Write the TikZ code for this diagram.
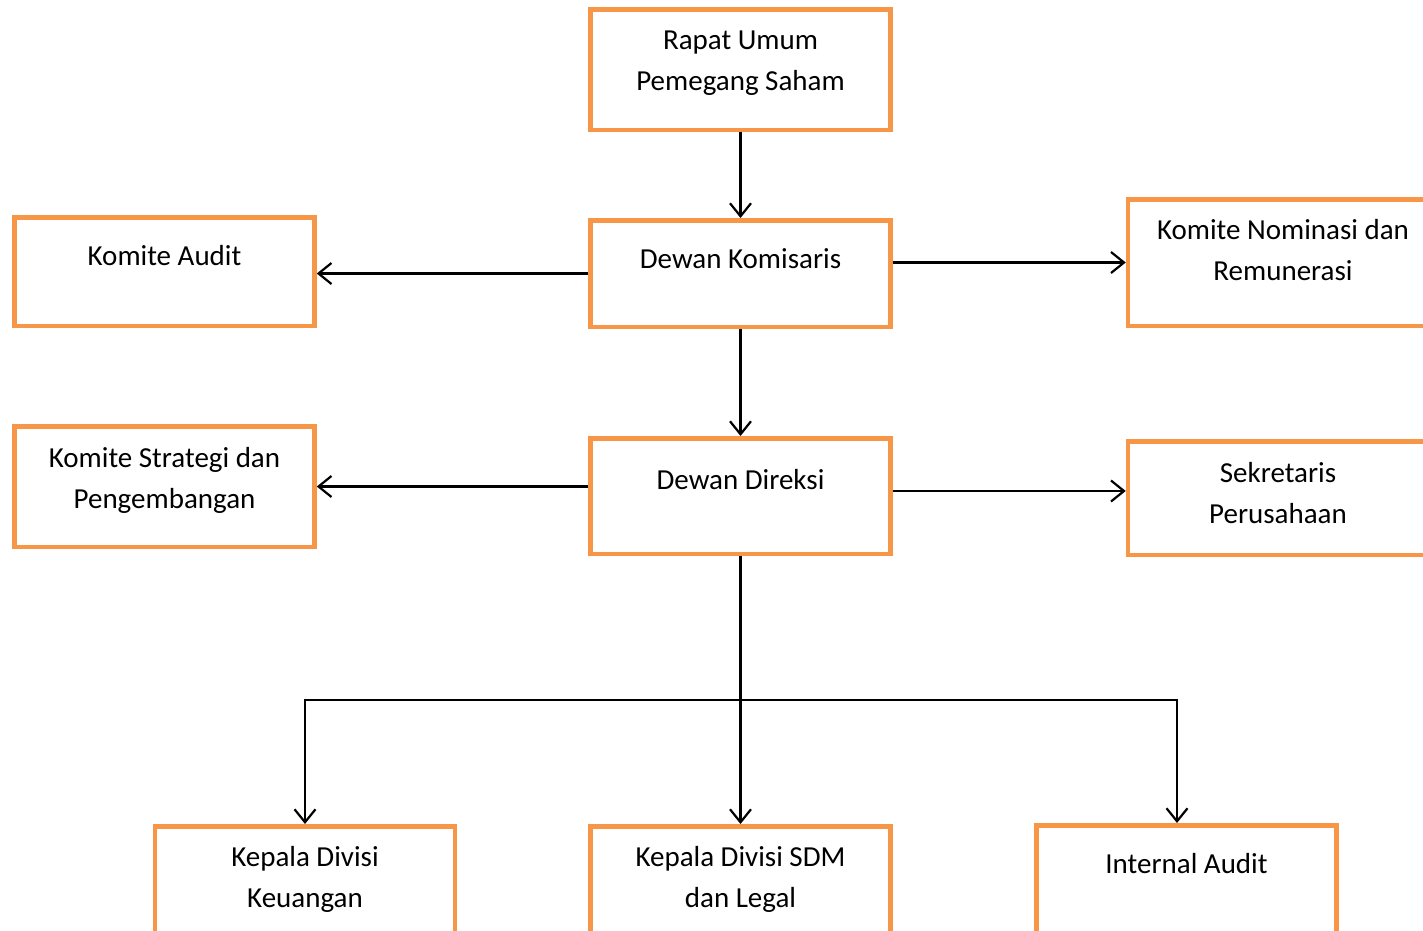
\documentclass[tikz,border=0pt]{standalone}
\usepackage{fontspec}
\setmainfont{Carlito}
\usetikzlibrary{arrows.meta}
\definecolor{boxorange}{RGB}{247,150,70}
\tikzset{
  unit/.style={draw=boxorange, line width=4.5pt, fill=white,
    minimum width=300pt, minimum height=#1, inner sep=0pt},
  lbl/.style={align=center, inner sep=0pt,
    font=\fontsize{29}{41}\selectfont},
  >={Straight Barb[length=13pt,width=21pt]}
}
\begin{document}
\begin{tikzpicture}[x=1pt,y=-1pt]
  \clip (0,0) rectangle (1423,930);
  % boxes
  \node[unit=120.5pt] (rups) at (740.5,69.5) {};
  \node[unit=106.5pt] (dk) at (740.5,273.5) {};
  \node[unit=108.5pt] (ka) at (164.5,271.5) {};
  \node[unit=126.5pt, minimum width=310pt] (kn) at (1283,262.5) {};
  \node[unit=120.5pt] (ks) at (164.5,486.5) {};
  \node[unit=115.5pt] (dd) at (740.5,496) {};
  \node[unit=113.5pt] (sek) at (1278,498) {};
  \node[unit=120pt] (keu) at (305,886.25) {};
  \node[unit=120pt] (sdm) at (740.5,886.25) {};
  \node[unit=120pt] (ia) at (1186.5,885.25) {};
  % labels
  \node[lbl] at ([yshift=-56.5pt]rups.north) {Rapat Umum\\Pemegang Saham};
  \node[lbl] at ([yshift=-41pt]dk.north) {Dewan Komisaris};
  \node[lbl] at ([yshift=-41pt]ka.north) {Komite Audit};
  \node[lbl] at ([yshift=-53.5pt]kn.north) {Komite Nominasi dan\\Remunerasi};
  \node[lbl] at ([yshift=-56.5pt]ks.north) {Komite Strategi dan\\Pengembangan};
  \node[lbl] at ([yshift=-44pt]dd.north) {Dewan Direksi};
  \node[lbl] at ([yshift=-54pt]sek.north) {Sekretaris\\Perusahaan};
  \node[lbl] at ([yshift=-55.5pt]keu.north) {Kepala Divisi\\Keuangan};
  \node[lbl] at ([yshift=-55.5pt]sdm.north) {Kepala Divisi SDM\\dan Legal};
  \node[lbl] at ([yshift=-41pt]ia.north) {Internal Audit};
  % connectors
  \coordinate (fork) at (740.5,700);
  \coordinate (iatop) at ([xshift=-9.5pt]ia.north);
  \begin{scope}[->, line width=2.2pt]
    \draw (rups) -- (dk);
    \draw (dk.west) -- (dk.west -| ka.east);
    \draw (kn.west -| dk.east) -- (kn.west);
    \draw (dk) -- (dd);
    \draw (ks.east -| dd.west) -- (ks.east);
    \draw ([yshift=5pt]dd.east) -- ([yshift=5pt]dd.east -| sek.west);
    \draw (dd) -- (sdm);
    \draw[<->] (keu.north) |- (fork) -| (iatop);
  \end{scope}
\end{tikzpicture}
\end{document}
